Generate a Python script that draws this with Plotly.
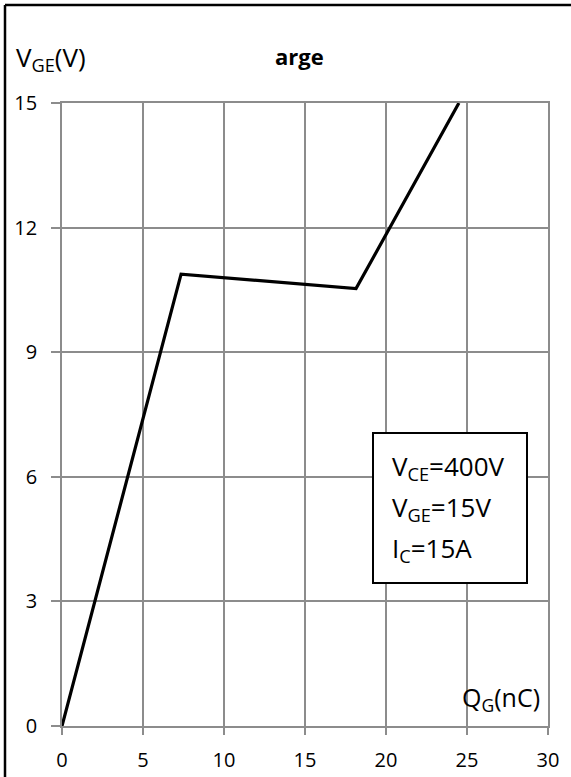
import plotly.graph_objects as go

# Data
qg_nc = [0.0, 7.35, 18.15, 24.5]
vge_v = [0.0, 10.88, 10.53, 15.0]
x_ticks = [0, 5, 10, 15, 20, 25, 30]
y_ticks = [0, 3, 6, 9, 12, 15]
title_text = "arge"
cond_lines = ["V<sub>CE</sub>=400V", "V<sub>GE</sub>=15V", "I<sub>C</sub>=15A"]

W, H = 571, 777
L, R, T, B = 62, 548, 103, 726
FONT = "Open Sans, Lato, Liberation Sans, sans-serif"

def px(xp):
    return (xp - L) / (R - L)

def py(yp):
    return (B - yp) / (B - T)

fig = go.Figure()
fig.add_trace(go.Scatter(x=qg_nc, y=vge_v, mode="lines",
                         line=dict(color="black", width=3.2),
                         showlegend=False, hoverinfo="skip"))

axis_common = dict(showgrid=True, gridcolor="#8c8c8c", gridwidth=1.6,
                   showline=True, linecolor="#8c8c8c", linewidth=1.6,
                   zeroline=False, ticks="outside", tickcolor="#8c8c8c",
                   tickwidth=1.6, automargin=False,
                   tickfont=dict(family=FONT, size=20, color="black"))

fig.update_xaxes(range=[0, 30], tickvals=x_ticks, ticklen=7, mirror=True,
                 ticklabelstandoff=8, **axis_common)
fig.update_yaxes(range=[0, 15], tickvals=y_ticks, ticklen=9, mirror=True,
                 ticklabelstandoff=10, **axis_common)

shapes = [
    # image frame (top and left)
    dict(type="line", xref="paper", yref="paper", x0=px(5), x1=px(571), y0=py(5), y1=py(5),
         line=dict(color="black", width=2.5)),
    dict(type="line", xref="paper", yref="paper", x0=px(5), x1=px(5), y0=py(5), y1=py(777),
         line=dict(color="black", width=2.5)),
    # conditions box
    dict(type="rect", xref="paper", yref="paper", x0=px(373), x1=px(527), y0=py(583), y1=py(433),
         line=dict(color="black", width=2), fillcolor="white", layer="above"),
]

annotations = [
    dict(text="<b>" + title_text + "</b>", xref="paper", yref="paper", x=px(299), y=py(56),
         xanchor="center", yanchor="middle", showarrow=False,
         font=dict(family=FONT, size=22, color="black")),
    dict(text="V<sub>GE</sub>(V)", xref="paper", yref="paper", x=px(14), y=py(58),
         xanchor="left", yanchor="middle", showarrow=False,
         font=dict(family=FONT, size=26, color="black")),
    dict(text="Q<sub>G</sub>(nC)", xref="paper", yref="paper", x=px(542), y=py(698),
         xanchor="right", yanchor="middle", showarrow=False,
         font=dict(family=FONT, size=25, color="black")),
]
for i, t in enumerate(cond_lines):
    annotations.append(dict(text=t, xref="paper", yref="paper", x=px(390), y=py(467 + 41 * i),
                            xanchor="left", yanchor="middle", showarrow=False,
                            font=dict(family=FONT, size=26, color="black")))

fig.update_layout(width=W, height=H, margin=dict(l=L, r=W - R, t=T, b=H - B),
                  paper_bgcolor="white", plot_bgcolor="white",
                  shapes=shapes, annotations=annotations)

fig.write_html("out.html")
